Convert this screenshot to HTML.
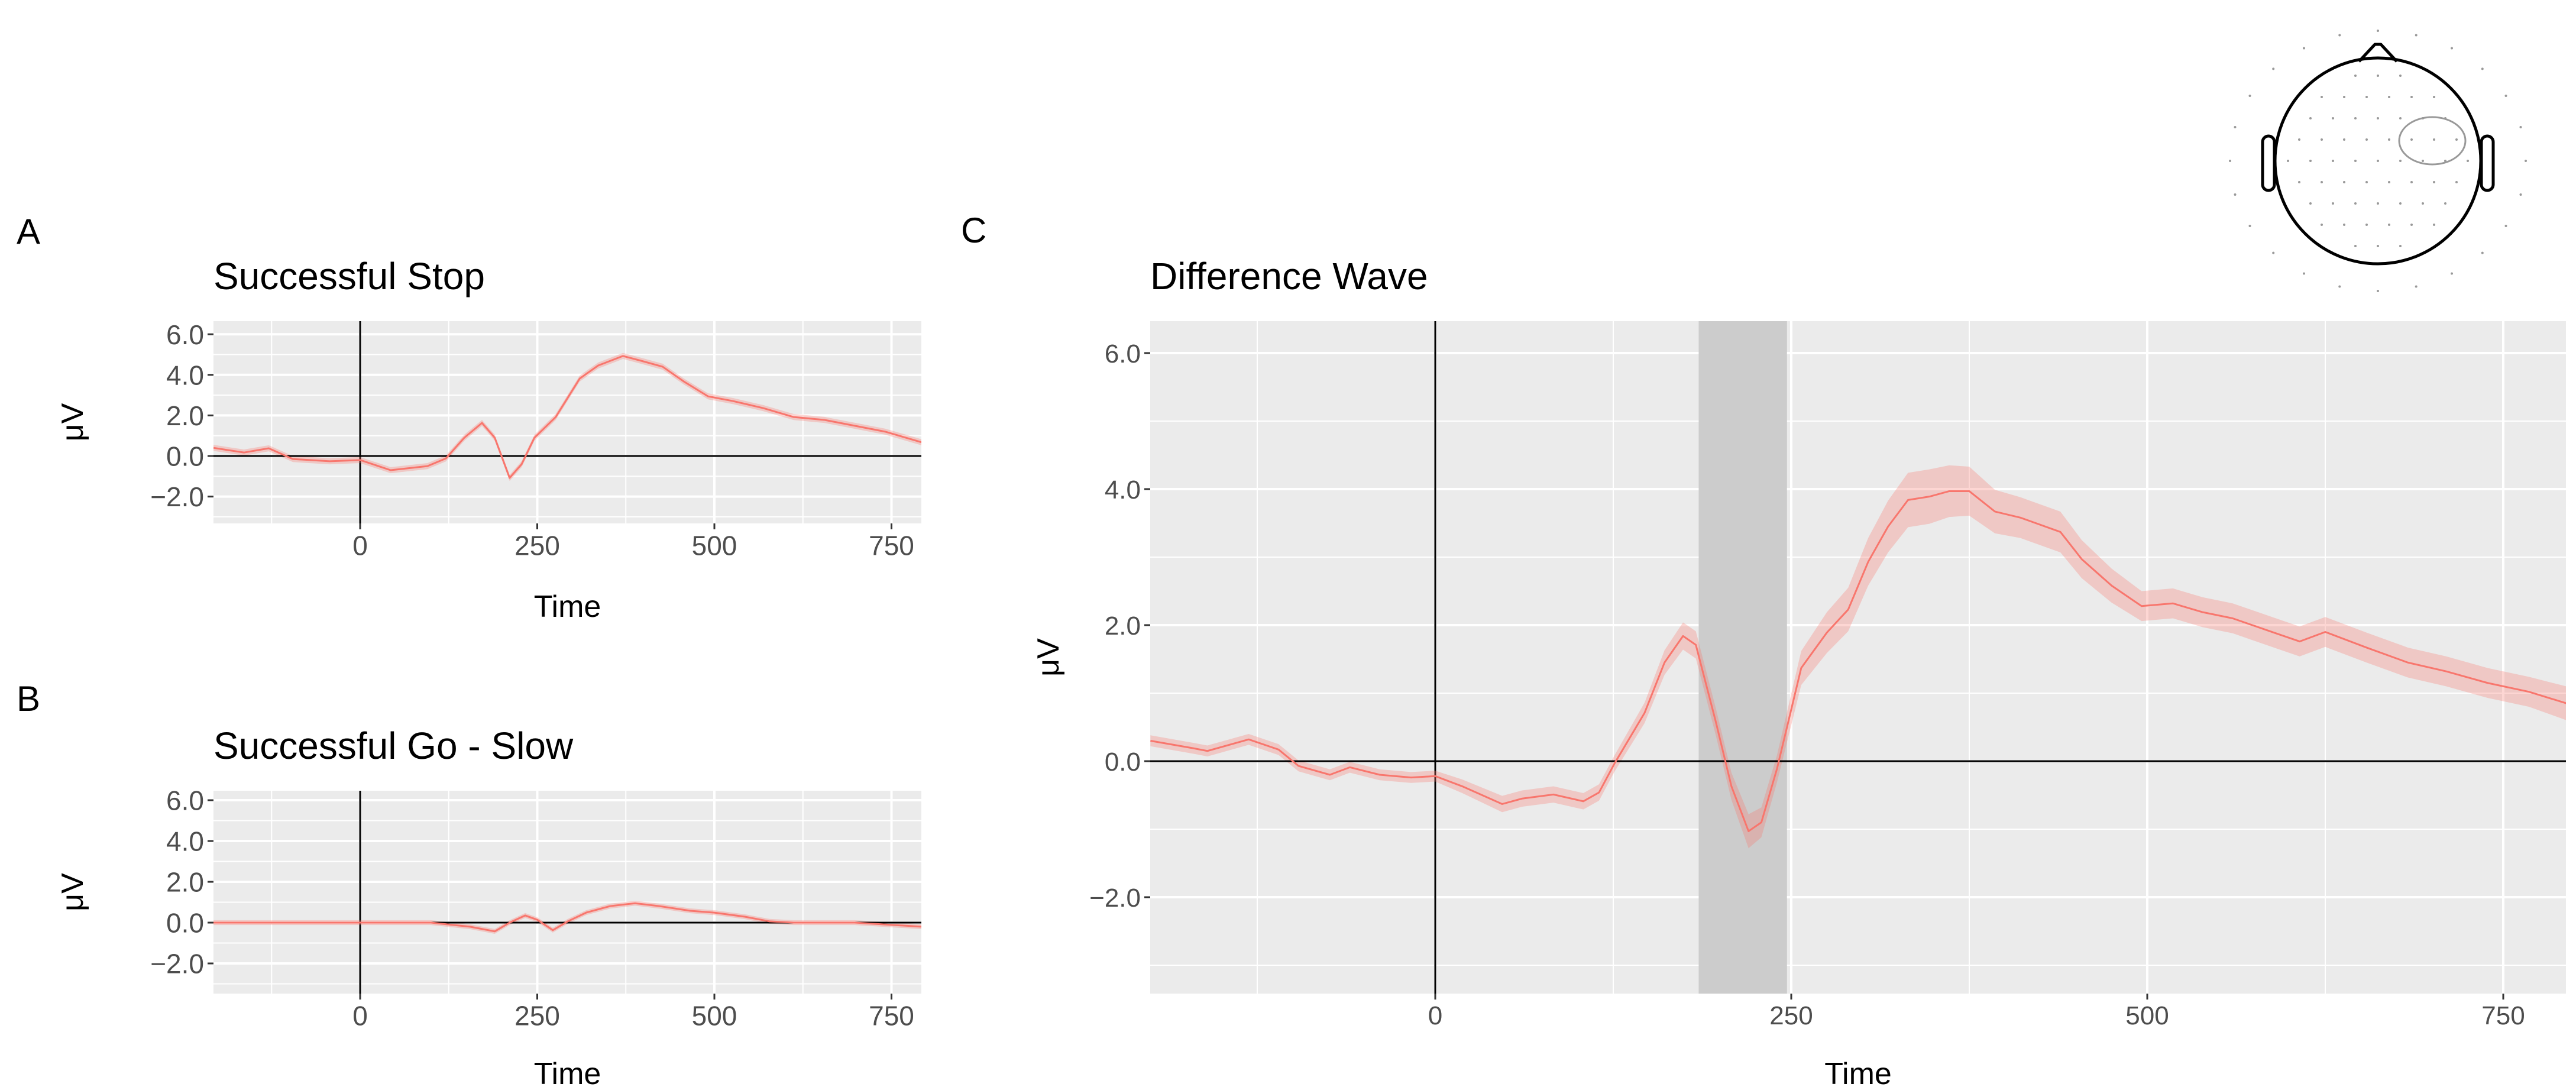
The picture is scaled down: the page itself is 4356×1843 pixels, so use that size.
<!DOCTYPE html>
<html><head><meta charset="utf-8"><style>
html,body{margin:0;padding:0;background:#fff;}
svg{display:block;font-family:"Liberation Sans",Arial,sans-serif;}
</style></head><body>
<svg id="fig" width="4356" height="1843" viewBox="0 0 4356 1843" xmlns="http://www.w3.org/2000/svg">
<text x="28" y="412" font-size="60">A</text>
<text x="28" y="1202" font-size="60">B</text>
<text x="1625" y="410" font-size="60">C</text>
<g id="head"></g>
</svg>
<script>
const NS="http://www.w3.org/2000/svg";
const svg=document.getElementById('fig');
function mk(tag,attrs,parent){const e=document.createElementNS(NS,tag);for(const k in attrs)e.setAttribute(k,attrs[k]);(parent||svg).appendChild(e);return e;}

// ---- data ----
const timeC=[-200,-170,-160,-131,-110,-96,-74,-60,-39,-17,0,19,47,61,83,104,115,126,147,161,174,183,197,208,220,229,240,257,275,290,304,318,332,347,361,375,393,411,439,454,475,496,518,539,560,589,607,625,654,683,710,739,768,796];
const valuesC=[0.30,0.19,0.15,0.32,0.17,-0.07,-0.2,-0.09,-0.2,-0.24,-0.22,-0.37,-0.63,-0.55,-0.49,-0.59,-0.46,-0.03,0.71,1.45,1.84,1.71,0.58,-0.37,-1.03,-0.9,-0.11,1.37,1.89,2.23,2.93,3.45,3.84,3.89,3.97,3.97,3.67,3.58,3.37,2.97,2.58,2.28,2.32,2.19,2.1,1.89,1.76,1.9,1.67,1.45,1.32,1.15,1.02,0.84];
const ciC=[0.08,0.08,0.08,0.08,0.08,0.08,0.08,0.08,0.08,0.08,0.08,0.1,0.12,0.12,0.12,0.12,0.12,0.12,0.15,0.18,0.2,0.2,0.2,0.2,0.25,0.22,0.2,0.25,0.3,0.32,0.35,0.38,0.4,0.4,0.38,0.36,0.32,0.3,0.3,0.28,0.25,0.22,0.22,0.22,0.22,0.22,0.22,0.22,0.22,0.22,0.22,0.22,0.22,0.25];
const timeA=[-207,-164,-129,-95,-43,0,43,95,121,147,172,190,211,228,246,276,310,336,371,397,427,457,491,526,569,612,655,698,741,793];
const valuesA=[0.4,0.17,0.38,-0.15,-0.26,-0.2,-0.7,-0.5,-0.12,0.9,1.63,0.9,-1.08,-0.4,0.9,1.92,3.82,4.46,4.93,4.69,4.4,3.67,2.94,2.71,2.36,1.92,1.78,1.49,1.2,0.67];
const timeB=[-207,-100,0,100,155,190,211,233,250,272,293,319,353,388,422,466,500,543,578,612,698,793];
const valuesB=[0,0,0,0,-0.2,-0.43,0,0.35,0.14,-0.37,0.06,0.49,0.81,0.95,0.81,0.58,0.49,0.29,0.06,0,0,-0.2];
const xTicks=[0,250,500,750];
const xMinor=[-125,125,375,625];
const yTicks=[-2,0,2,4,6];
const yTickLabels=["\u22122.0","0.0","2.0","4.0","6.0"];
const yMinor=[-3,-1,1,3,5];
const shadeStart=185, shadeEnd=247;

function panel(cfg){
  const g=mk('g',{});
  
  
  const X=t=>cfg.x0+cfg.kx*t, Y=v=>cfg.y0-cfg.ky*v;
  const clipId=cfg.name+'-clip';
  const cp=mk('clipPath',{id:clipId},g);
  mk('rect',{x:cfg.L,y:cfg.T,width:cfg.R-cfg.L,height:cfg.B-cfg.T},cp);
  const bg=mk('rect',{x:cfg.L,y:cfg.T,width:cfg.R-cfg.L,height:cfg.B-cfg.T,fill:'#ebebeb'},g);
  
  const inner=mk('g',{'clip-path':'url(#'+clipId+')'},g);
  yMinor.forEach(v=>mk('line',{x1:cfg.L,x2:cfg.R,y1:Y(v),y2:Y(v),stroke:'#fff','stroke-width':cfg.minw},inner));
  xMinor.forEach(t=>mk('line',{x1:X(t),x2:X(t),y1:cfg.T,y2:cfg.B,stroke:'#fff','stroke-width':cfg.minw},inner));
  yTicks.forEach(v=>mk('line',{x1:cfg.L,x2:cfg.R,y1:Y(v),y2:Y(v),stroke:'#fff','stroke-width':cfg.majw},inner));
  xTicks.forEach(t=>mk('line',{x1:X(t),x2:X(t),y1:cfg.T,y2:cfg.B,stroke:'#fff','stroke-width':cfg.majw},inner));
  if(cfg.shade){
    const s=mk('rect',{x:X(shadeStart),y:cfg.T,width:X(shadeEnd)-X(shadeStart),height:cfg.B-cfg.T,fill:'#cccccc'},inner);
    
    
  }
  mk('line',{x1:X(0),x2:X(0),y1:cfg.T,y2:cfg.B,stroke:'#000','stroke-width':cfg.axw},inner);
  if(cfg.ci){
    let up=cfg.t.map((t,i)=>X(t)+','+Y(cfg.v[i]+cfg.ci[i]));
    let lo=cfg.t.map((t,i)=>X(t)+','+Y(cfg.v[i]-cfg.ci[i])).reverse();
    const r=mk('polygon',{points:up.concat(lo).join(' '),fill:'#F8766D','fill-opacity':0.3},inner);
    
    
  }
  mk('line',{x1:cfg.L,x2:cfg.R,y1:Y(0),y2:Y(0),stroke:'#000','stroke-width':cfg.axw},inner);
  const ln=mk('polyline',{points:cfg.t.map((t,i)=>X(t)+','+Y(cfg.v[i])).join(' '),fill:'none',stroke:'#F8766D','stroke-width':cfg.lw,'stroke-linejoin':'round'},inner);
  
  
  yTicks.forEach((v,i)=>{
    mk('line',{x1:cfg.L-cfg.tl,x2:cfg.L,y1:Y(v),y2:Y(v),stroke:'#333','stroke-width':3},g);
    const tx=mk('text',{x:cfg.L-cfg.tl-6,y:Y(v)+cfg.fs*0.36,'font-size':cfg.fs,fill:'#4d4d4d','text-anchor':'end'},g);
    tx.textContent=yTickLabels[i];
    
  });
  xTicks.forEach(t=>{
    mk('line',{x1:X(t),x2:X(t),y1:cfg.B,y2:cfg.B+cfg.tl,stroke:'#333','stroke-width':3},g);
    const tx=mk('text',{x:X(t),y:cfg.B+cfg.tl+cfg.fs*0.95,'font-size':cfg.fs,fill:'#4d4d4d','text-anchor':'middle'},g);
    tx.textContent=t;
    
  });
  const title=mk('text',{x:cfg.L,y:cfg.titleY,'font-size':cfg.tfs,fill:'#000'},g);
  title.textContent=cfg.title;
  
  const xl=mk('text',{x:(cfg.L+cfg.R)/2,y:cfg.xlabY,'font-size':cfg.lfs,fill:'#000','text-anchor':'middle'},g);
  xl.textContent='Time';
  
  const yl=mk('text',{x:0,y:0,'font-size':cfg.lfs,fill:'#000','text-anchor':'middle',transform:`translate(${cfg.ylabX},${(cfg.T+cfg.B)/2}) rotate(-90)`},g);
  yl.textContent='\u03bcV';
  
}

panel({name:'panel-successful-stop',L:361,R:1558,T:543,B:885,x0:609,kx:1.198,y0:771,ky:34.3,t:timeA,v:valuesA,ci:valuesA.map(()=>0.15),
  minw:2,majw:4,axw:3,lw:3,tl:10,fs:46,tfs:64,lfs:52,title:'Successful Stop',titleY:489,xlabY:1043,ylabX:140,shade:false});
panel({name:'panel-successful-go-slow',L:361,R:1558,T:1337,B:1680,x0:609,kx:1.198,y0:1560,ky:34.5,t:timeB,v:valuesB,ci:valuesB.map(()=>0.12),
  minw:2,majw:4,axw:3,lw:3,tl:10,fs:46,tfs:64,lfs:52,title:'Successful Go - Slow',titleY:1283,xlabY:1833,ylabX:140,shade:false});
panel({name:'panel-difference-wave',L:1945,R:4339,T:543,B:1680,x0:2427,kx:2.408,y0:1287,ky:115,t:timeC,v:valuesC,ci:ciC,
  minw:2,majw:4,axw:3,lw:3,tl:10,fs:44,tfs:64,lfs:52,title:'Difference Wave',titleY:489,xlabY:1833,ylabX:1790,shade:true});

// head
const head=document.getElementById('head');
mk('circle',{cx:4021,cy:272,r:174,fill:'none',stroke:'#000','stroke-width':5},head);
mk('polyline',{points:'3989,104 4016,75 4026,75 4053,104',fill:'none',stroke:'#000','stroke-width':5,'stroke-linejoin':'round'},head);
mk('rect',{x:3826,y:230,width:20,height:92,rx:10,fill:'#fff',stroke:'#000','stroke-width':5},head);
mk('rect',{x:4196,y:230,width:20,height:92,rx:10,fill:'#fff',stroke:'#000','stroke-width':5},head);
mk('ellipse',{cx:4113,cy:238,rx:56,ry:40,fill:'none',stroke:'#999','stroke-width':3},head);
for(let r=0;r<9;r++){for(let c=0;c<9;c++){
  const dx=(c-4)*38+(r%2?19:0), dy=(r-4)*36;
  if(dx*dx+dy*dy<160*160) mk('circle',{cx:4021+dx,cy:272+dy,r:2,fill:'#999'},head);
}}
for(let k=0;k<24;k++){const a=k/24*2*Math.PI;mk('circle',{cx:4021+250*Math.cos(a),cy:272+220*Math.sin(a),r:2,fill:'#999'},head);}
</script>
</body></html>
